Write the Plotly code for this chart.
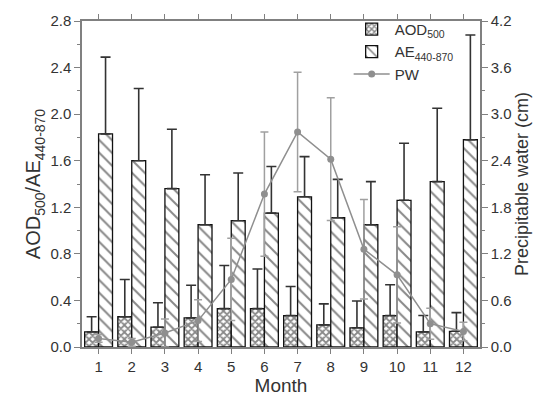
import plotly.graph_objects as go

months = list(range(1, 13))
aod = [0.13, 0.26, 0.17, 0.25, 0.33, 0.33, 0.27, 0.19, 0.165, 0.27, 0.13, 0.135]
aod_err = [0.13, 0.32, 0.21, 0.28, 0.37, 0.34, 0.25, 0.18, 0.23, 0.265, 0.14, 0.16]
ae = [1.83, 1.60, 1.36, 1.05, 1.085, 1.15, 1.29, 1.11, 1.05, 1.26, 1.42, 1.78]
ae_err = [0.66, 0.62, 0.51, 0.43, 0.41, 0.40, 0.345, 0.33, 0.37, 0.49, 0.63, 0.90]
pw = [0.11, 0.06, 0.18, 0.34, 0.87, 1.97, 2.77, 2.42, 1.26, 0.93, 0.30, 0.20]
pw_err = [0.05, 0.05, 0.18, 0.27, 0.53, 0.80, 0.77, 0.79, 0.64, 0.62, 0.20, 0.12]

zero = [0] * 12
FONT = "Liberation Sans, Arial, sans-serif"
AX = "#808080"
TXT = "#333333"

fig = go.Figure()
fig.add_trace(go.Bar(
    x=months, y=aod, name="AOD<sub>500</sub>", width=0.42, offset=-0.42,
    marker=dict(color="white", line=dict(color="#111", width=1.3),
                pattern=dict(shape="x", fgcolor="#111", bgcolor="white", size=5, solidity=0.6)),
    error_y=dict(type="data", symmetric=False, array=aod_err, arrayminus=zero,
                 color="#333", thickness=1.6, width=5),
))
fig.add_trace(go.Bar(
    x=months, y=ae, name="AE<sub>440-870</sub>", width=0.42, offset=0,
    marker=dict(color="white", line=dict(color="#111", width=1.3),
                pattern=dict(shape="\\", fgcolor="#111", bgcolor="white", size=9, solidity=0.22)),
    error_y=dict(type="data", symmetric=False, array=ae_err, arrayminus=zero,
                 color="#333", thickness=1.6, width=5),
))
fig.add_trace(go.Scatter(
    x=months, y=pw, name="PW", yaxis="y2", mode="lines+markers",
    line=dict(color="#8f8f8f", width=1.5),
    marker=dict(color="#8f8f8f", size=7),
    error_y=dict(type="data", array=pw_err, color="#a0a0a0", thickness=1.5, width=4),
))

fig.update_layout(
    width=550, height=402,
    margin=dict(l=82, r=70, t=20, b=51),
    paper_bgcolor="white", plot_bgcolor="white",
    font=dict(family=FONT, color=TXT, size=14),
    barmode="overlay",
    showlegend=True,
    legend=dict(x=0.67, y=1.025, xanchor="left", yanchor="top",
                bgcolor="rgba(0,0,0,0)", font=dict(size=15, color=TXT),
                tracegroupgap=0, itemwidth=36),
    xaxis=dict(range=[0.5, 12.5], tickmode="array", tickvals=months,
               ticktext=[str(m) for m in months],
               showline=True, linecolor=AX, linewidth=1.5, mirror="ticks",
               ticks="outside", ticklen=5, tickcolor=AX, showgrid=False, zeroline=False,
               title=dict(text="Month", font=dict(size=19, color=TXT), standoff=2),
               tickfont=dict(size=15, color=TXT)),
    yaxis=dict(range=[0, 2.8], tickmode="linear", tick0=0, dtick=0.4, tickformat=".1f",
               showline=True, linecolor=AX, linewidth=1.5,
               ticks="outside", ticklen=6, tickcolor=AX, showgrid=False, zeroline=False,
               minor=dict(ticks="outside", ticklen=3, tickcolor=AX, dtick=0.2, tick0=0),
               title=dict(text="AOD<sub>500</sub>/AE<sub>440-870</sub>", font=dict(size=20, color=TXT), standoff=4),
               tickfont=dict(size=15, color=TXT)),
    yaxis2=dict(range=[0, 4.2], overlaying="y", side="right", tickmode="linear", tick0=0, dtick=0.6,
                tickformat=".1f",
                showline=True, linecolor=AX, linewidth=1.5,
                ticks="outside", ticklen=6, tickcolor=AX, showgrid=False, zeroline=False,
                minor=dict(ticks="outside", ticklen=3, tickcolor=AX, dtick=0.3, tick0=0),
                title=dict(text="Precipitable water (cm)", font=dict(size=18, color=TXT), standoff=4),
                tickfont=dict(size=15, color=TXT)),
)

fig.write_html("out.html")
